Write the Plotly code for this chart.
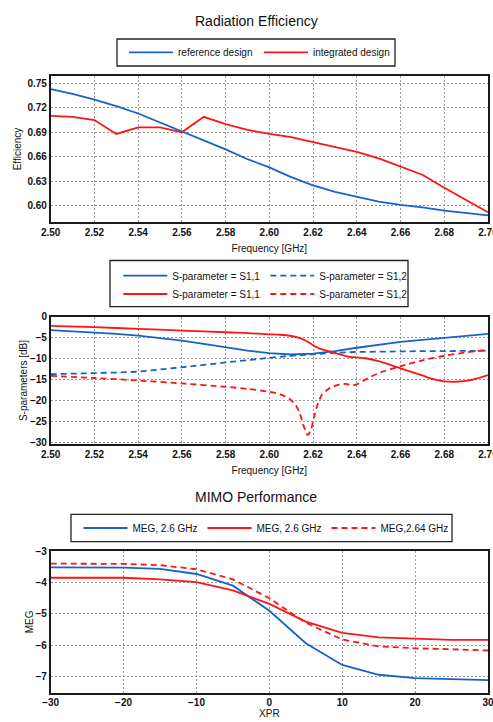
import plotly.graph_objects as go

W, H = 493, 722
FONT = "Liberation Sans, Arial, sans-serif"
BLUE = "#1464c8"
RED = "#ff1414"

# ---------------- data ----------------
eff_freq = [2.50, 2.51, 2.52, 2.53, 2.54, 2.55, 2.56, 2.57, 2.58, 2.59, 2.60,
            2.61, 2.62, 2.63, 2.64, 2.65, 2.66, 2.67, 2.68, 2.69, 2.70]
eff_reference = [0.743, 0.737, 0.730, 0.722, 0.713, 0.702, 0.691, 0.680, 0.669, 0.657, 0.647,
                 0.635, 0.625, 0.617, 0.611, 0.605, 0.601, 0.598, 0.594, 0.591, 0.588]
eff_integrated = [0.710, 0.709, 0.705, 0.688, 0.696, 0.696, 0.690, 0.709, 0.700, 0.693, 0.688,
                  0.684, 0.678, 0.672, 0.666, 0.658, 0.648, 0.638, 0.622, 0.607, 0.592]

s_freq_ref = eff_freq
s11_ref = [-3.2, -3.45, -3.75, -4.1, -4.5, -5.1, -5.7, -6.5, -7.3, -8.1, -8.7,
           -9.0, -8.8, -8.2, -7.4, -6.7, -6.0, -5.5, -5.0, -4.5, -4.1]
s12_ref = [-13.7, -13.6, -13.5, -13.3, -13.1, -12.6, -12.1, -11.5, -10.9, -10.3, -9.8,
           -9.3, -8.9, -8.6, -8.4, -8.3, -8.25, -8.2, -8.2, -8.15, -8.1]

s11_int_freq = [2.50, 2.52, 2.54, 2.56, 2.58, 2.59, 2.60, 2.605, 2.61, 2.614, 2.617, 2.62,
                2.623, 2.627, 2.632, 2.636, 2.64, 2.644, 2.65, 2.66, 2.67, 2.675, 2.68,
                2.685, 2.69, 2.695, 2.70]
s11_int = [-2.2, -2.5, -2.9, -3.3, -3.7, -3.9, -4.2, -4.3, -4.6, -5.1, -5.8, -6.8,
           -7.6, -8.2, -8.9, -9.5, -9.7, -9.9, -10.6, -12.3, -14.0, -14.9, -15.4,
           -15.5, -15.3, -14.7, -13.9]

s12_int_freq = [2.50, 2.52, 2.54, 2.56, 2.58, 2.59, 2.60, 2.605, 2.609, 2.612, 2.614, 2.616,
                2.6175, 2.619, 2.6205, 2.622, 2.624, 2.627, 2.631, 2.635, 2.638, 2.64,
                2.645, 2.65, 2.66, 2.67, 2.68, 2.69, 2.70]
s12_int = [-14.1, -14.6, -15.2, -15.9, -16.7, -17.2, -17.9, -18.5, -19.5, -21.0, -23.2, -26.5,
           -28.2, -27.0, -23.8, -21.0, -18.6, -17.2, -16.3, -16.0, -16.3, -16.1,
           -14.7, -13.4, -11.8, -10.4, -9.3, -8.5, -7.9]

xpr = [-30, -25, -20, -15, -10, -5, 0, 5, 10, 15, 20, 25, 30]
meg_ref_26 = [-3.52, -3.52, -3.53, -3.57, -3.73, -4.10, -4.90, -5.93, -6.62, -6.93, -7.04, -7.07, -7.10]
meg_int_26 = [-3.85, -3.85, -3.85, -3.90, -3.99, -4.25, -4.68, -5.24, -5.60, -5.74, -5.79, -5.82, -5.82]
meg_int_264 = [-3.40, -3.40, -3.41, -3.45, -3.58, -3.90, -4.50, -5.28, -5.81, -6.03, -6.09, -6.12, -6.16]

freq_ticks = [2.50, 2.52, 2.54, 2.56, 2.58, 2.60, 2.62, 2.64, 2.66, 2.68, 2.70]
eff_ticks = [0.60, 0.63, 0.66, 0.69, 0.72, 0.75]
s_ticks = [-30, -25, -20, -15, -10, -5, 0]
xpr_ticks = [-30, -20, -10, 0, 10, 20, 30]
meg_ticks = [-7, -6, -5, -4, -3]

# ---------------- helpers ----------------
def px_x(v):
    return v / W

def px_y(v):
    return 1 - v / H

LW = 1.8
DASH = "6px,4px"

fig = go.Figure()

fig.add_trace(go.Scatter(x=eff_freq, y=eff_reference, name="reference design", mode="lines",
                         line=dict(color=BLUE, width=LW), xaxis="x", yaxis="y", legend="legend"))
fig.add_trace(go.Scatter(x=eff_freq, y=eff_integrated, name="integrated design", mode="lines",
                         line=dict(color=RED, width=LW), xaxis="x", yaxis="y", legend="legend"))

fig.add_trace(go.Scatter(x=s_freq_ref, y=s11_ref, name="S-parameter = S1,1", mode="lines",
                         line=dict(color=BLUE, width=LW), xaxis="x2", yaxis="y2", legend="legend2"))
fig.add_trace(go.Scatter(x=s_freq_ref, y=s12_ref, name="S-parameter = S1,2", mode="lines",
                         line=dict(color=BLUE, width=LW, dash=DASH), xaxis="x2", yaxis="y2", legend="legend2"))
fig.add_trace(go.Scatter(x=s11_int_freq, y=s11_int, name="S-parameter = S1,1", mode="lines",
                         line=dict(color=RED, width=LW, shape="spline", smoothing=0.6), xaxis="x2", yaxis="y2", legend="legend3"))
fig.add_trace(go.Scatter(x=s12_int_freq, y=s12_int, name="S-parameter = S1,2", mode="lines",
                         line=dict(color=RED, width=LW, dash=DASH, shape="spline", smoothing=0.6),
                         xaxis="x2", yaxis="y2", legend="legend3"))

fig.add_trace(go.Scatter(x=xpr, y=meg_ref_26, name="MEG, 2.6 GHz", mode="lines",
                         line=dict(color=BLUE, width=LW), xaxis="x3", yaxis="y3", legend="legend4"))
fig.add_trace(go.Scatter(x=xpr, y=meg_int_26, name="MEG, 2.6 GHz", mode="lines",
                         line=dict(color=RED, width=LW), xaxis="x3", yaxis="y3", legend="legend4"))
fig.add_trace(go.Scatter(x=xpr, y=meg_int_264, name="MEG,2.64 GHz", mode="lines",
                         line=dict(color=RED, width=LW, dash=DASH), xaxis="x3", yaxis="y3", legend="legend4"))

tickfont = dict(family=FONT, size=10, color="#111", weight="bold")
titlefont = dict(family=FONT, size=10, color="#111")

def axis(domain, rng, ticks, fmt, title, anchor, standoff):
    return dict(domain=domain, range=rng, tickvals=ticks, tickformat=fmt,
                showline=True, mirror=True, linecolor="#1a1a1a", linewidth=1.5,
                showgrid=True, gridcolor="#9a9a9a", gridwidth=1, griddash="2px,2px",
                zeroline=False, ticks="", tickfont=tickfont, anchor=anchor,
                ticklabeloverflow="allow",
                title=dict(text=title, font=titlefont, standoff=standoff),
                automargin=False, fixedrange=True)

xdom = [px_x(50.7), px_x(488)]
fig.update_layout(
    xaxis=axis(xdom, [2.5, 2.7], freq_ticks, ".2f", "Frequency [GHz]", "y", 8),
    yaxis=axis([px_y(222), px_y(76)], [0.58, 0.759], eff_ticks, ".2f", "Efficiency", "x", 4),
    xaxis2=axis(xdom, [2.5, 2.7], freq_ticks, ".2f", "Frequency [GHz]", "y2", 8),
    yaxis2=axis([px_y(444.3), px_y(316.7)], [-30.4, 0], s_ticks, "d", "S-parameters [dB]", "x2", 0),
    xaxis3=axis(xdom, [-30, 30], xpr_ticks, "d", "XPR", "y3", 3),
    yaxis3=axis([px_y(692.7), px_y(551)], [-7.5, -3], meg_ticks, "d", "MEG", "x3", 0),
)

legfont = dict(family=FONT, size=10, color="#111")
def leg(x, y, ew):
    return dict(x=px_x(x), y=px_y(y), xanchor="left", yanchor="top", orientation="h",
                bgcolor="rgba(0,0,0,0)", borderwidth=0, font=legfont,
                entrywidth=ew, entrywidthmode="pixels", itemwidth=44, tracegroupgap=0)

fig.update_layout(
    legend=leg(124, 37.8, 76),
    legend2=leg(118.3, 261.2, 88),
    legend3=leg(118.3, 279.5, 88),
    legend4=leg(78.5, 513.5, 65),
)

# legend boxes
boxes = [(117, 39, 395, 66), (110, 260.5, 408, 306.7), (71, 514.3, 452, 541.7)]
shapes = []
for x0, y0, x1, y1 in boxes:
    shapes.append(dict(type="rect", xref="paper", yref="paper",
                       x0=px_x(x0), x1=px_x(x1), y0=px_y(y1), y1=px_y(y0),
                       line=dict(color="#222", width=1.3), fillcolor="rgba(0,0,0,0)"))

annotations = [
    dict(text="Radiation Efficiency", x=px_x(256), y=px_y(21), xref="paper", yref="paper",
         showarrow=False, font=dict(family=FONT, size=14, color="#111"), xanchor="center", yanchor="middle"),
    dict(text="MIMO Performance", x=px_x(256), y=px_y(497), xref="paper", yref="paper",
         showarrow=False, font=dict(family=FONT, size=14, color="#111"), xanchor="center", yanchor="middle"),
]

fig.update_layout(
    template="none",
    width=W, height=H,
    margin=dict(l=0, r=0, t=0, b=0),
    paper_bgcolor="white", plot_bgcolor="white",
    showlegend=True,
    shapes=shapes, annotations=annotations,
    font=dict(family=FONT),
)

fig.write_html("out.html", config={"displayModeBar": False},
               post_script="document.body.style.margin='0px';document.body.style.overflow='hidden';")
